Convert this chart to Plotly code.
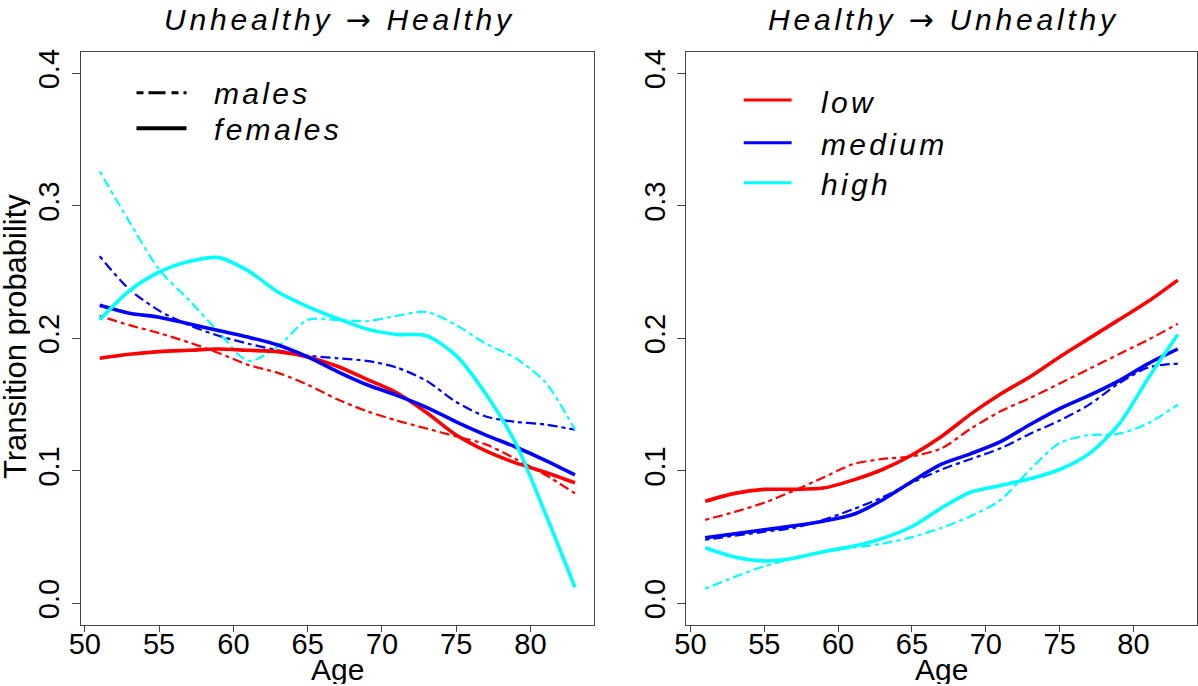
import plotly.graph_objects as go

# ---------------- data ----------------
ages = [51, 53, 55, 57, 59, 61, 63, 65, 67, 69, 71, 73, 75, 77, 79, 81, 83]

# Unhealthy -> Healthy
uh_f_low  = [.185, .188, .190, .191, .192, .191, .190, .186, .179, .169, .159, .144, .127, .115, .106, .099, .091]
uh_m_low  = [.217, .210, .204, .197, .189, .180, .174, .165, .154, .145, .138, .132, .126, .120, .109, .097, .083]
uh_f_med  = [.225, .219, .216, .211, .206, .201, .195, .186, .175, .165, .157, .148, .137, .127, .118, .108, .097]
uh_m_med  = [.262, .237, .221, .210, .202, .196, .191, .187, .185, .183, .178, .168, .152, .141, .137, .135, .131]
uh_f_high = [.214, .236, .250, .258, .261, .251, .235, .224, .215, .207, .203, .202, .187, .158, .121, .068, .012]
uh_m_high = [.326, .288, .252, .229, .205, .183, .194, .214, .214, .213, .217, .220, .210, .196, .185, .167, .131]

# Healthy -> Unhealthy
hu_f_low  = [.077, .083, .086, .086, .087, .093, .101, .112, .126, .143, .158, .171, .186, .200, .214, .228, .244]
hu_m_low  = [.063, .069, .076, .085, .095, .105, .109, .111, .117, .132, .145, .155, .166, .177, .188, .199, .211]
hu_f_med  = [.0495, .0525, .0555, .0585, .062, .067, .078, .092, .105, .113, .122, .135, .147, .157, .168, .181, .192]
hu_m_med  = [.048, .051, .054, .057, .063, .071, .080, .091, .101, .109, .117, .128, .138, .150, .166, .178, .181]
hu_f_high = [.042, .035, .032, .034, .039, .043, .049, .058, .072, .084, .089, .094, .101, .113, .135, .170, .203]
hu_m_high = [.011, .020, .028, .034, .039, .042, .045, .050, .057, .066, .078, .101, .121, .127, .128, .136, .150]

panel_titles = [("Unhealthy", "Healthy"), ("Healthy", "Unhealthy")]
sex_labels = ["males", "females"]
level_labels = ["low", "medium", "high"]
x_ticks = [50, 55, 60, 65, 70, 75, 80]
y_ticks = [0.0, 0.1, 0.2, 0.3, 0.4]
y_ticktext = ["0.0", "0.1", "0.2", "0.3", "0.4"]

# ---------------- styling ----------------
W, H = 1198, 686
FONT = "Liberation Sans"
colors = {"low": "#FF0000", "medium": "#0000FF", "high": "#00FFFF"}
MALE_DASH = "4px,4px,10px,4px"
SPACING = "letter-spacing:3.3px"
TITLE_SPACING = "letter-spacing:3.8px"

def px(x):
    return x / W

def py(y):
    return 1 - y / H

fig = go.Figure()

panels = [
    ("x", "y", {"low": (uh_f_low, uh_m_low), "medium": (uh_f_med, uh_m_med), "high": (uh_f_high, uh_m_high)}),
    ("x2", "y2", {"low": (hu_f_low, hu_m_low), "medium": (hu_f_med, hu_m_med), "high": (hu_f_high, hu_m_high)}),
]
for xa, ya, series in panels:
    for lvl in ["low", "medium", "high"]:
        fem, mal = series[lvl]
        fig.add_trace(go.Scatter(x=ages, y=mal, mode="lines", xaxis=xa, yaxis=ya,
                                 line=dict(color=colors[lvl], width=2.2, dash=MALE_DASH, shape="spline", smoothing=0.8),
                                 showlegend=False, hoverinfo="skip"))
    for lvl in ["low", "medium", "high"]:
        fem, mal = series[lvl]
        fig.add_trace(go.Scatter(x=ages, y=fem, mode="lines", xaxis=xa, yaxis=ya,
                                 line=dict(color=colors[lvl], width=3.6, shape="spline", smoothing=0.8),
                                 showlegend=False, hoverinfo="skip"))

box_left = [80.7, 686.3]
box_right = [594.0, 1196.7]
box_top, box_bottom = 52.3, 624.5

axis_common = dict(showline=True, mirror=True, linecolor="#444444", linewidth=1.3,
                   showgrid=False, zeroline=False, ticks="outside", tickcolor="#444444",
                   automargin=False,
                   tickfont=dict(family=FONT, size=29, color="black"))

for i, (xa, ya) in enumerate([("xaxis", "yaxis"), ("xaxis2", "yaxis2")]):
    fig.layout[xa] = dict(axis_common, domain=[px(box_left[i]), px(box_right[i])],
                          range=[49.72, 84.28], tickvals=x_ticks, ticklen=6,
                          ticklabelstandoff=-12,
                          anchor="y" if i == 0 else "y2")
    fig.layout[ya] = dict(axis_common, domain=[py(box_bottom), py(box_top)],
                          range=[-0.016, 0.416], tickvals=y_ticks, ticktext=y_ticktext,
                          tickangle=-90, ticklen=8, ticklabelstandoff=1,
                          anchor="x" if i == 0 else "x2")

annotations = []
ARROW = "<span style='font-family:DejaVu Sans'>\u2192</span>"
# panel titles
for i, (a, b) in enumerate(panel_titles):
    cx = (box_left[i] + box_right[i]) / 2
    annotations.append(dict(x=px(cx + 2), y=py(19), xref="paper", yref="paper",
                            text=f"<span style='{TITLE_SPACING}'>{a} {ARROW} {b}</span>", showarrow=False,
                            xanchor="center", yanchor="middle",
                            font=dict(family=FONT, size=30, color="black", style="italic")))
    annotations.append(dict(x=px(cx), y=py(669), xref="paper", yref="paper", text="Age",
                            showarrow=False, xanchor="center", yanchor="middle", height=30,
                            font=dict(family=FONT, size=30, color="black")))
annotations.append(dict(x=px(15), y=py(337), xref="paper", yref="paper",
                        text="Transition probability", textangle=-90, showarrow=False,
                        xanchor="center", yanchor="middle", height=30,
                        font=dict(family=FONT, size=31, color="black")))

shapes = []
# left legend (line types)
left_leg_y = [92.7, 128.3]
left_leg_style = [dict(color="black", width=3, dash="7px,5px,17px,6px"), dict(color="black", width=4)]
for lab, yy, st in zip(sex_labels, left_leg_y, left_leg_style):
    shapes.append(dict(type="line", xref="paper", yref="paper", x0=px(136.5), x1=px(186.5),
                       y0=py(yy), y1=py(yy), line=st))
    annotations.append(dict(x=px(212), y=py(yy + 1), xref="paper", yref="paper",
                            text=f"<span style='{SPACING}'>{lab}</span>", showarrow=False,
                            xanchor="left", yanchor="middle",
                            font=dict(family=FONT, size=30, color="black", style="italic")))
# right legend (colours)
right_leg_y = [100, 142.7, 182.7]
for lab, yy in zip(level_labels, right_leg_y):
    shapes.append(dict(type="line", xref="paper", yref="paper", x0=px(743.7), x1=px(791.6),
                       y0=py(yy), y1=py(yy), line=dict(color=colors[lab], width=3)))
    annotations.append(dict(x=px(819), y=py(yy + 2), xref="paper", yref="paper",
                            text=f"<span style='{SPACING}'>{lab}</span>", showarrow=False,
                            xanchor="left", yanchor="middle",
                            font=dict(family=FONT, size=30, color="black", style="italic")))

fig.update_layout(width=W, height=H, margin=dict(l=0, r=0, t=0, b=0),
                  paper_bgcolor="white", plot_bgcolor="white", showlegend=False,
                  annotations=annotations, shapes=shapes,
                  font=dict(family=FONT, color="black"))

fig.write_html("out.html", config={"displayModeBar": False},
               post_script="document.body.style.margin='0';")
